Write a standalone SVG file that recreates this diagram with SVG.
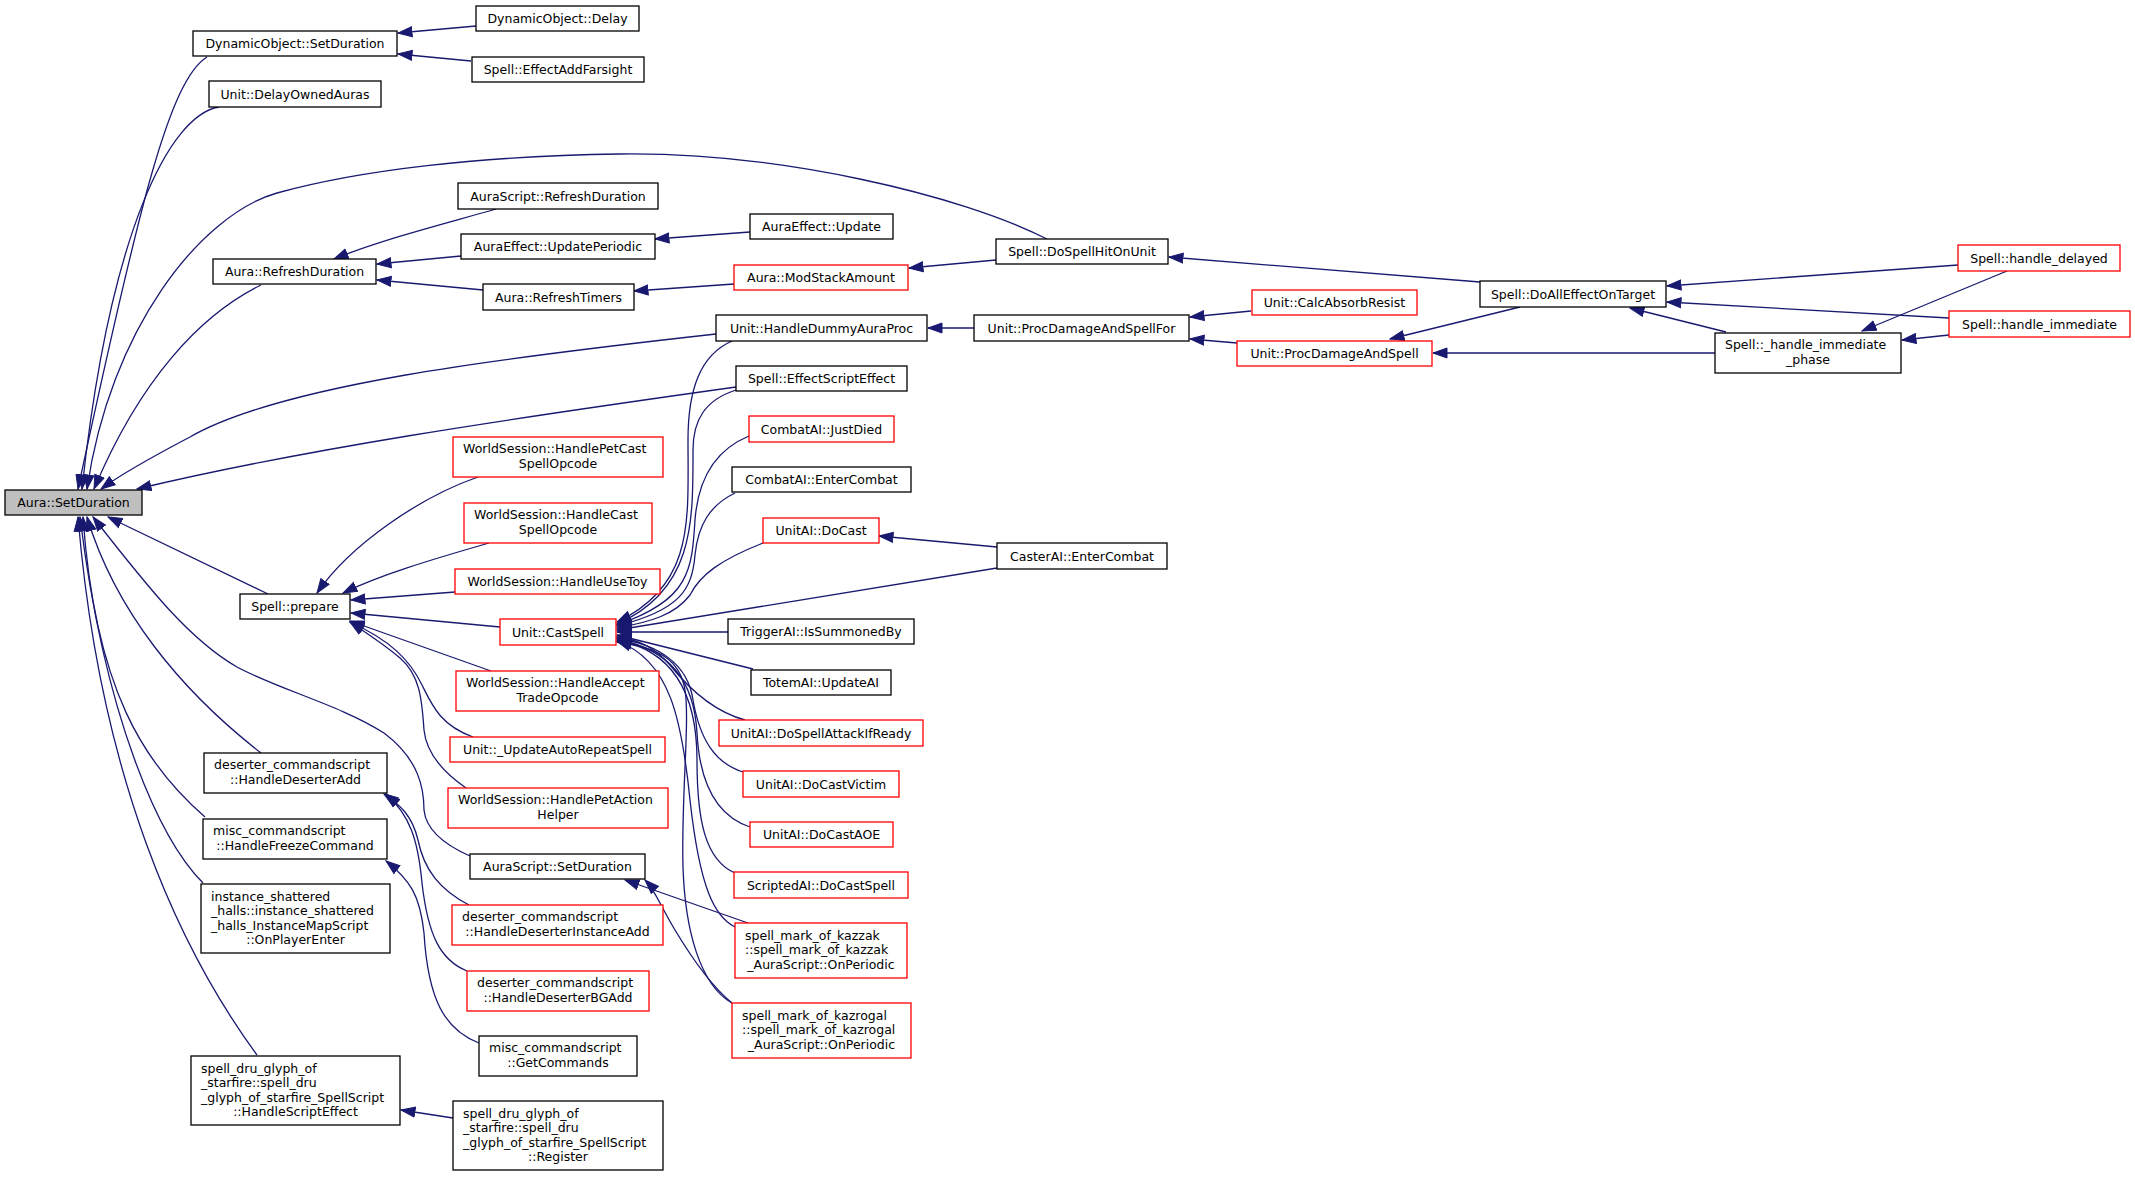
<svg xmlns="http://www.w3.org/2000/svg" width="2135" height="1177" viewBox="0 0 2135 1177">
<style>
.n rect{fill:#fff;stroke:#000;stroke-width:1.3}
.n.r rect{stroke:#ff0000}
.n.g rect{fill:#bfbfbf}
text{font-family:"DejaVu Sans",sans-serif;font-size:12.5px;fill:#000}
.c{text-anchor:middle}
.e path{fill:none;stroke:#191970;stroke-width:1.3;marker-end:url(#a)}
</style>
<defs>
<marker id="a" markerWidth="16" markerHeight="12" refX="14.5" refY="6" orient="auto" markerUnits="userSpaceOnUse"><path d="M0.5,1 L14.5,6 L0.5,11 z" fill="#191970" stroke="#191970" stroke-width="1"/></marker>
</defs>
<rect width="2135" height="1177" fill="#fff"/>
<g class="e" id="edges">
<path d="M207,57 C170,80 140,200 78,489"/>
<path d="M219,107 C170,115 110,230 82,489"/>
<path d="M1047,239 C960,195 780,152 620,154 C480,156 360,170 277,193 C200,215 110,330 87,489"/>
<path d="M261,285 C200,315 140,380 94,489"/>
<path d="M716,334 C500,358 280,385 190,437 C150,458 120,475 101,489"/>
<path d="M736,387 C500,420 300,450 137,489"/>
<path d="M268,594 L108,517"/>
<path d="M470,856 C445,845 426,830 424,810 C424,790 420,760 384,733 C340,705 280,690 237,667 C190,640 150,590 93,517"/>
<path d="M261,753 C180,690 115,610 87,517"/>
<path d="M205,817 C145,765 95,690 83,517"/>
<path d="M203,883 C160,840 105,720 80,517"/>
<path d="M257,1055 C180,950 100,780 78,517"/>
<path d="M476,26 L398,33"/>
<path d="M471,61 L398,54"/>
<path d="M496,209 C440,225 380,240 334,259"/>
<path d="M461,256 L377,264"/>
<path d="M483,290 L377,280"/>
<path d="M750,232 L655,239"/>
<path d="M734,284 L634,291"/>
<path d="M996,260 L909,268"/>
<path d="M1480,282 L1169,257"/>
<path d="M974,328 L928,328"/>
<path d="M1251,311 L1190,317"/>
<path d="M1237,343 L1190,339"/>
<path d="M1520,307 L1390,339"/>
<path d="M1715,353 L1433,353"/>
<path d="M1958,265 L1667,286"/>
<path d="M1949,318 L1667,302"/>
<path d="M1726,332 L1630,308"/>
<path d="M2007,271 L1862,331"/>
<path d="M1949,335 L1902,340"/>
<path d="M997,547 L879,536"/>
<path d="M453,1118 L401,1110"/>
<path d="M478,477 C420,497 350,545 317,593"/>
<path d="M489,543 C430,560 380,575 343,593"/>
<path d="M455,592 L351,600"/>
<path d="M500,627 L351,613"/>
<path d="M491,671 L350,621"/>
<path d="M473,737 C440,725 432,705 422,685 C410,660 390,640 350,622"/>
<path d="M466,788 C440,770 426,750 424,730 C422,700 420,675 400,658 C385,645 365,632 350,622"/>
<path d="M469,905 C440,890 424,870 418,840 C412,815 400,805 384,794"/>
<path d="M467,971 C440,960 428,935 422,883 C418,840 410,815 386,794"/>
<path d="M479,1043 C445,1030 428,1000 424,933 C420,895 410,880 386,861"/>
<path d="M732,341 C700,355 688,390 688,440 C688,520 695,585 617,622"/>
<path d="M736,390 C705,400 693,420 693,450 C693,520 695,590 617,624"/>
<path d="M749,436 C715,450 698,480 695,520 C692,570 690,600 617,625"/>
<path d="M735,493 C710,505 698,525 695,555 C692,590 680,610 617,626"/>
<path d="M763,543 C720,560 700,575 690,595 C675,615 650,622 617,628"/>
<path d="M997,568 L617,630"/>
<path d="M728,632 L617,632"/>
<path d="M753,669 L617,635"/>
<path d="M745,720 C715,712 690,690 670,665 C655,648 640,640 617,637"/>
<path d="M743,772 C715,763 700,740 693,700 C688,665 660,645 617,638"/>
<path d="M750,827 C720,817 700,790 697,733 C694,680 670,650 617,639"/>
<path d="M735,873 C705,860 697,820 697,760 C697,690 670,650 617,640"/>
<path d="M735,927 C715,917 700,890 690,800 C682,720 670,660 617,641"/>
<path d="M732,1003 C700,985 685,930 683,867 C681,800 690,720 685,690 C680,660 660,648 617,642"/>
<path d="M748,923 L625,880"/>
<path d="M732,1003 C710,985 690,955 675,930 C660,905 655,890 645,880"/>
</g>
<g id="n0" class="n g"><rect x="5" y="490" width="137" height="25"/><text class="c" x="73.5" y="507">Aura::SetDuration</text></g>
<g id="n1" class="n"><rect x="193" y="31" width="204" height="25"/><text class="c" x="295" y="48">DynamicObject::SetDuration</text></g>
<g id="n2" class="n"><rect x="476" y="6" width="163" height="25"/><text class="c" x="557.5" y="23">DynamicObject::Delay</text></g>
<g id="n3" class="n"><rect x="472" y="57" width="172" height="25"/><text class="c" x="558" y="74">Spell::EffectAddFarsight</text></g>
<g id="n4" class="n"><rect x="209" y="81" width="172" height="26"/><text class="c" x="295" y="98.5">Unit::DelayOwnedAuras</text></g>
<g id="n5" class="n"><rect x="996" y="239" width="172" height="25"/><text class="c" x="1082" y="256">Spell::DoSpellHitOnUnit</text></g>
<g id="n6" class="n"><rect x="1480" y="281" width="186" height="26"/><text class="c" x="1573" y="298.5">Spell::DoAllEffectOnTarget</text></g>
<g id="n7" class="n r"><rect x="1958" y="245" width="162" height="26"/><text class="c" x="2039" y="262.5">Spell::handle_delayed</text></g>
<g id="n8" class="n"><rect x="1715" y="333" width="186" height="40"/><text x="1725" y="349">Spell::_handle_immediate</text><text class="c" x="1808" y="364">_phase</text></g>
<g id="n9" class="n r"><rect x="1949" y="311" width="181" height="26"/><text class="c" x="2039.5" y="328.5">Spell::handle_immediate</text></g>
<g id="n10" class="n"><rect x="213" y="259" width="163" height="25"/><text class="c" x="294.5" y="276">Aura::RefreshDuration</text></g>
<g id="n11" class="n"><rect x="458" y="183" width="200" height="26"/><text class="c" x="558" y="200.5">AuraScript::RefreshDuration</text></g>
<g id="n12" class="n"><rect x="461" y="234" width="194" height="25"/><text class="c" x="558" y="251">AuraEffect::UpdatePeriodic</text></g>
<g id="n13" class="n"><rect x="750" y="214" width="143" height="25"/><text class="c" x="821.5" y="231">AuraEffect::Update</text></g>
<g id="n14" class="n"><rect x="483" y="284" width="151" height="26"/><text class="c" x="558.5" y="301.5">Aura::RefreshTimers</text></g>
<g id="n15" class="n r"><rect x="734" y="265" width="174" height="25"/><text class="c" x="821" y="282">Aura::ModStackAmount</text></g>
<g id="n16" class="n"><rect x="716" y="315" width="211" height="26"/><text class="c" x="821.5" y="332.5">Unit::HandleDummyAuraProc</text></g>
<g id="n17" class="n"><rect x="974" y="315" width="215" height="26"/><text class="c" x="1081.5" y="332.5">Unit::ProcDamageAndSpellFor</text></g>
<g id="n18" class="n r"><rect x="1252" y="290" width="165" height="25"/><text class="c" x="1334.5" y="307">Unit::CalcAbsorbResist</text></g>
<g id="n19" class="n r"><rect x="1237" y="341" width="195" height="25"/><text class="c" x="1334.5" y="358">Unit::ProcDamageAndSpell</text></g>
<g id="n20" class="n"><rect x="736" y="366" width="171" height="25"/><text class="c" x="821.5" y="383">Spell::EffectScriptEffect</text></g>
<g id="n21" class="n"><rect x="240" y="594" width="110" height="25"/><text class="c" x="295" y="611">Spell::prepare</text></g>
<g id="n22" class="n r"><rect x="453" y="437" width="210" height="40"/><text x="463" y="453">WorldSession::HandlePetCast</text><text class="c" x="558" y="468">SpellOpcode</text></g>
<g id="n23" class="n r"><rect x="464" y="503" width="188" height="40"/><text x="474" y="519">WorldSession::HandleCast</text><text class="c" x="558" y="534">SpellOpcode</text></g>
<g id="n24" class="n r"><rect x="455" y="569" width="205" height="25"/><text class="c" x="557.5" y="586">WorldSession::HandleUseToy</text></g>
<g id="n25" class="n r"><rect x="500" y="619" width="116" height="26"/><text class="c" x="558" y="636.5">Unit::CastSpell</text></g>
<g id="n26" class="n r"><rect x="456" y="671" width="203" height="40"/><text x="466" y="687">WorldSession::HandleAccept</text><text class="c" x="557.5" y="702">TradeOpcode</text></g>
<g id="n27" class="n r"><rect x="450" y="737" width="215" height="25"/><text class="c" x="557.5" y="754">Unit::_UpdateAutoRepeatSpell</text></g>
<g id="n28" class="n r"><rect x="448" y="788" width="220" height="40"/><text x="458" y="804">WorldSession::HandlePetAction</text><text class="c" x="558" y="819">Helper</text></g>
<g id="n29" class="n r"><rect x="749" y="416" width="145" height="26"/><text class="c" x="821.5" y="433.5">CombatAI::JustDied</text></g>
<g id="n30" class="n"><rect x="732" y="467" width="179" height="25"/><text class="c" x="821.5" y="484">CombatAI::EnterCombat</text></g>
<g id="n31" class="n r"><rect x="763" y="518" width="116" height="25"/><text class="c" x="821" y="535">UnitAI::DoCast</text></g>
<g id="n32" class="n"><rect x="997" y="543" width="170" height="26"/><text class="c" x="1082" y="560.5">CasterAI::EnterCombat</text></g>
<g id="n33" class="n"><rect x="728" y="619" width="186" height="25"/><text class="c" x="821" y="636">TriggerAI::IsSummonedBy</text></g>
<g id="n34" class="n"><rect x="751" y="670" width="140" height="25"/><text class="c" x="821" y="687">TotemAI::UpdateAI</text></g>
<g id="n35" class="n r"><rect x="719" y="720" width="204" height="26"/><text class="c" x="821" y="737.5">UnitAI::DoSpellAttackIfReady</text></g>
<g id="n36" class="n r"><rect x="743" y="771" width="156" height="26"/><text class="c" x="821" y="788.5">UnitAI::DoCastVictim</text></g>
<g id="n37" class="n r"><rect x="750" y="822" width="143" height="25"/><text class="c" x="821.5" y="839">UnitAI::DoCastAOE</text></g>
<g id="n38" class="n r"><rect x="734" y="872" width="174" height="26"/><text class="c" x="821" y="889.5">ScriptedAI::DoCastSpell</text></g>
<g id="n39" class="n r"><rect x="735" y="923" width="172" height="55"/><text x="745" y="939.5">spell_mark_of_kazzak</text><text x="745" y="954">::spell_mark_of_kazzak</text><text class="c" x="821" y="968.5">_AuraScript::OnPeriodic</text></g>
<g id="n40" class="n r"><rect x="732" y="1003" width="179" height="55"/><text x="742" y="1019.5">spell_mark_of_kazrogal</text><text x="742" y="1034">::spell_mark_of_kazrogal</text><text class="c" x="821.5" y="1048.5">_AuraScript::OnPeriodic</text></g>
<g id="n41" class="n"><rect x="470" y="854" width="175" height="25"/><text class="c" x="557.5" y="871">AuraScript::SetDuration</text></g>
<g id="n42" class="n"><rect x="204" y="753" width="183" height="40"/><text x="214" y="769">deserter_commandscript</text><text class="c" x="295.5" y="784">::HandleDeserterAdd</text></g>
<g id="n43" class="n r"><rect x="452" y="905" width="211" height="40"/><text x="462" y="921">deserter_commandscript</text><text class="c" x="557.5" y="936">::HandleDeserterInstanceAdd</text></g>
<g id="n44" class="n r"><rect x="467" y="971" width="182" height="40"/><text x="477" y="987">deserter_commandscript</text><text class="c" x="558" y="1002">::HandleDeserterBGAdd</text></g>
<g id="n45" class="n"><rect x="203" y="819" width="184" height="40"/><text x="213" y="835">misc_commandscript</text><text class="c" x="295" y="850">::HandleFreezeCommand</text></g>
<g id="n46" class="n"><rect x="479" y="1036" width="158" height="40"/><text x="489" y="1052">misc_commandscript</text><text class="c" x="558" y="1067">::GetCommands</text></g>
<g id="n47" class="n"><rect x="201" y="884" width="189" height="69"/><text x="211" y="900.5">instance_shattered</text><text x="211" y="915">_halls::instance_shattered</text><text x="211" y="929.5">_halls_InstanceMapScript</text><text class="c" x="295.5" y="944">::OnPlayerEnter</text></g>
<g id="n48" class="n"><rect x="191" y="1056" width="209" height="69"/><text x="201" y="1072.5">spell_dru_glyph_of</text><text x="201" y="1087">_starfire::spell_dru</text><text x="201" y="1101.5">_glyph_of_starfire_SpellScript</text><text class="c" x="295.5" y="1116">::HandleScriptEffect</text></g>
<g id="n49" class="n"><rect x="453" y="1101" width="210" height="69"/><text x="463" y="1117.5">spell_dru_glyph_of</text><text x="463" y="1132">_starfire::spell_dru</text><text x="463" y="1146.5">_glyph_of_starfire_SpellScript</text><text class="c" x="558" y="1161">::Register</text></g>
</svg>
